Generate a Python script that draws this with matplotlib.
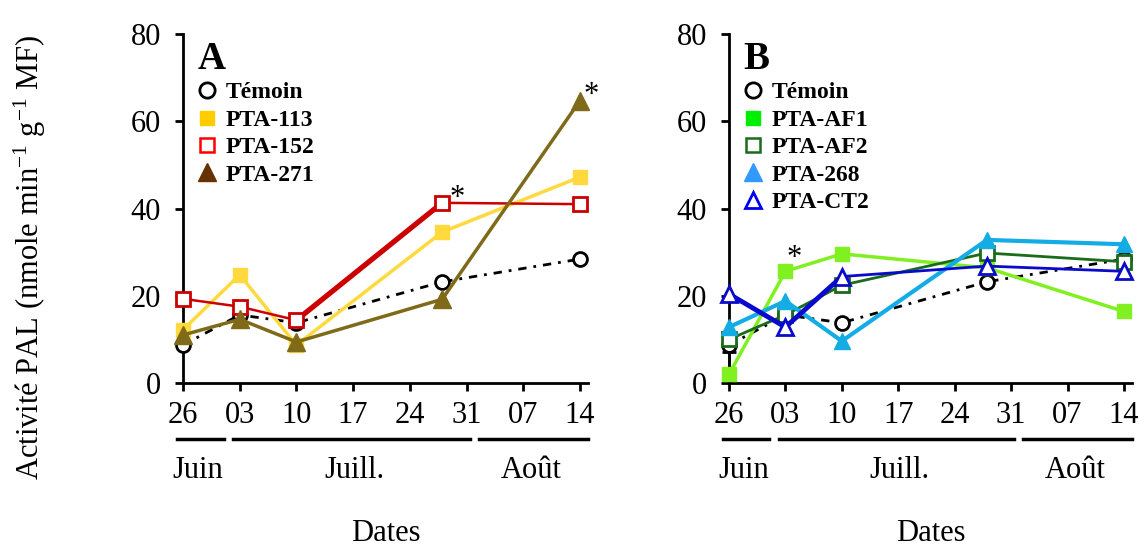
import matplotlib
matplotlib.use("Agg")
import matplotlib.pyplot as plt
from matplotlib.lines import Line2D
import matplotlib.transforms as mtransforms

plt.rcParams['font.family'] = ['Liberation Serif', 'DejaVu Serif']
plt.rcParams['mathtext.fontset'] = 'custom'
plt.rcParams['mathtext.rm'] = 'Liberation Serif'
plt.rcParams['mathtext.it'] = 'Liberation Serif:italic'
plt.rcParams['mathtext.bf'] = 'Liberation Serif:bold'

# ---------------- data ----------------
days = [0, 7, 14, 32, 49]                 # days after 26 June
tick_days = [0, 7, 14, 21, 28, 35, 42, 49]
tick_labels = ['26', '03', '10', '17', '24', '31', '07', '14']
months = ['Juin', 'Juill.', 'Août']

temoin = [8.7, 15.6, 13.8, 23.2, 28.4]
pta113 = [12.2, 24.8, 8.7, 34.6, 47.2]
pta152 = [19.3, 17.5, 14.4, 41.3, 41.0]
pta271 = [11.0, 14.6, 9.4, 19.2, 64.7]

af1 = [2.0, 25.6, 29.6, 26.4, 16.4]
af1_err = [5.2, 0, 0, 0, 0]
af2 = [10.0, 15.6, 22.4, 29.8, 27.8]
pta268 = [12.8, 18.8, 9.6, 32.8, 31.8]
ct2 = [20.4, 12.8, 24.4, 26.8, 25.6]

FS = 22

fig = plt.figure(figsize=(11.44, 5.46), dpi=100)
axA = fig.add_axes([183/1144, 1-383/546, 405/1144, 349/546])
axB = fig.add_axes([729/1144, 1-383/546, 403/1144, 349/546])

tem_kw = dict(color='black', lw=2.0, ls=(0, (3, 2.5, 1, 2.5)), marker='o', ms=10,
              mfc='white', mec='black', mew=2, clip_on=False, zorder=3)


def style(ax):
    ax.set_xlim(0, 50)
    ax.set_ylim(0, 80)
    ax.set_yticks([0, 20, 40, 60, 80])
    ax.set_xticks(tick_days)
    ax.set_xticklabels(tick_labels)
    for s in ['top', 'right']:
        ax.spines[s].set_visible(False)
    for s in ['left', 'bottom']:
        ax.spines[s].set_linewidth(2)
    ax.tick_params(axis='both', labelsize=FS, width=2, length=6, direction='out')
    ax.tick_params(axis='y', pad=10)
    ax.tick_params(axis='x', pad=7)
    trans = mtransforms.blended_transform_factory(ax.transData, ax.transAxes)
    spans = [(-0.7, 5.0), (6.2, 35.4), (36.5, 50.0)]
    centers = [1.8, 21.2, 43.0]
    for (a, b), c, m in zip(spans, centers, months):
        ax.add_line(Line2D([a, b], [-0.16, -0.16], transform=trans, color='black',
                           lw=2.5, clip_on=False))
        ax.text(c, -0.25, m, transform=trans, ha='center', va='center', fontsize=FS)
    ax.text(0.5, -0.453, 'Dates', transform=ax.transAxes, ha='center', va='baseline',
            fontsize=FS)


leg_kw = dict(loc='upper left', bbox_to_anchor=(0.03, 0.863), frameon=False, borderpad=0,
              borderaxespad=0, handlelength=1.0, handletextpad=0.3, labelspacing=0.25,
              prop={'weight': 'bold', 'size': 17})

# ---------------- panel A ----------------
axA.plot(days, temoin, **tem_kw)
axA.plot(days, pta113, color='#FFD93D', lw=2.5, marker='s', ms=10.5, clip_on=False, zorder=4)
axA.plot(days, pta152, color='#CC0000', lw=1.8, marker='s', ms=10, mfc='white',
         mec='#CC0000', mew=2, clip_on=False, zorder=5)
axA.plot(days[2:4], pta152[2:4], color='#CC0000', lw=3.8, clip_on=False, zorder=4.9)
axA.plot(days, pta271, color='#7F6A1A', lw=2.5, marker='^', ms=13, clip_on=False, zorder=6)
axA.annotate('*', xy=(days[3], pta152[3]), xytext=(11, 3), textcoords='offset points',
             fontsize=22, ha='center', va='center')
axA.annotate('*', xy=(days[4], pta271[4]), xytext=(8, 4), textcoords='offset points',
             fontsize=22, ha='center', va='center')
style(axA)
axA.text(0.035, 0.98, 'A', transform=axA.transAxes, fontsize=28, fontweight='bold',
         va='top', ha='left')
hA = [Line2D([], [], ls='none', marker='o', ms=11, mfc='white', mec='black', mew=2),
      Line2D([], [], ls='none', marker='s', ms=10, color='#FFCC00'),
      Line2D([], [], ls='none', marker='s', ms=10, mfc='white', mec='#FF0000', mew=1.8),
      Line2D([], [], ls='none', marker='^', ms=13, color='#663300')]
axA.legend(hA, ['Témoin', 'PTA-113', 'PTA-152', 'PTA-271'], **leg_kw)

# ---------------- panel B ----------------
axB.plot(days, temoin, **tem_kw)
axB.errorbar(days[:1], af1[:1], yerr=[[0], af1_err[:1]], fmt='none', ecolor='black',
             elinewidth=2, capsize=5, capthick=2, zorder=3.5, clip_on=False)
axB.plot(days, af1, color='#80F020', lw=2.5, marker='s', ms=10.5, clip_on=False, zorder=4)
axB.plot(days, af2, color='#1A6B1A', lw=2.0, marker='s', ms=10, mfc='white',
         mec='#1A6B1A', mew=2, clip_on=False, zorder=5)
axB.plot(days, pta268, color='#14ACE4', lw=3.0, marker='^', ms=12, clip_on=False, zorder=6)
axB.plot(days, ct2, color='#0A0ACC', lw=2.0, marker='^', ms=11, mfc='white',
         mec='#0A0ACC', mew=2, clip_on=False, zorder=7)
axB.plot(days[:3], ct2[:3], color='#0A0ACC', lw=3.5, clip_on=False, zorder=6.9)
axB.annotate('*', xy=(days[1], af1[1]), xytext=(6, 9), textcoords='offset points',
             fontsize=22, ha='center', va='center')
style(axB)
axB.text(0.035, 0.98, 'B', transform=axB.transAxes, fontsize=28, fontweight='bold',
         va='top', ha='left')
hB = [Line2D([], [], ls='none', marker='o', ms=11, mfc='white', mec='black', mew=2),
      Line2D([], [], ls='none', marker='s', ms=10, color='#00EE00'),
      Line2D([], [], ls='none', marker='s', ms=10, mfc='white', mec='#1A6B1A', mew=1.8),
      Line2D([], [], ls='none', marker='^', ms=13, color='#3399FF'),
      Line2D([], [], ls='none', marker='^', ms=12, mfc='white', mec='#0000EE', mew=2)]
axB.legend(hB, ['Témoin', 'PTA-AF1', 'PTA-AF2', 'PTA-268', 'PTA-CT2'], **leg_kw)

fig.text(30/1144, 1-257/546, r'Activité PAL (nmole min$^{-1}$ g$^{-1}$ MF)', rotation=90,
         ha='center', va='center', fontsize=FS)

fig.savefig('out.png', dpi=100)
